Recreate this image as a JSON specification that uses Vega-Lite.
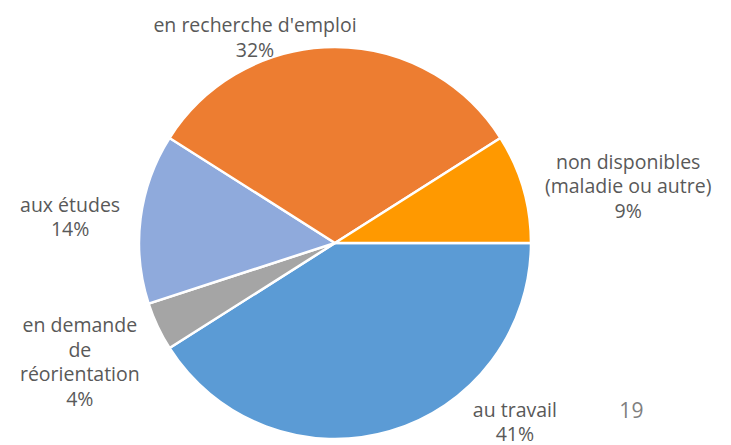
{
  "$schema": "https://vega.github.io/schema/vega-lite/v6.json",
  "width": 670,
  "height": 404,
  "autosize": "none",
  "padding": {"left": 0, "top": 41, "right": 61, "bottom": 0},
  "background": "white",
  "title": {"text": "19", "orient": "bottom", "anchor": "end", "offset": -44, "dx": -68, "fontSize": 21, "fontWeight": "normal", "color": "#7f7f7f", "font": "Open Sans"},
  "data": {"values": [
    {"cat": "au travail", "label": "au travail", "value": 41, "order": 1},
    {"cat": "en demande de réorientation", "label": "en demande|de|réorientation", "value": 4, "order": 2},
    {"cat": "aux études", "label": "aux études", "value": 14, "order": 3},
    {"cat": "en recherche d'emploi", "label": "en recherche d'emploi", "value": 32, "order": 4},
    {"cat": "non disponibles (maladie ou autre)", "label": "non disponibles|(maladie ou autre)", "value": 9, "order": 5}
  ]},
  "transform": [
    {"stack": "value", "groupby": [], "sort": [{"field": "order"}], "as": ["v0", "v1"]},
    {"calculate": "(datum.v0 + datum.v1) / 2", "as": "mid"},
    {"calculate": "datum.label + '|' + datum.value + '%'", "as": "txt"}
  ],
  "layer": [
    {
      "mark": {"type": "arc", "radius": 196, "stroke": "white", "strokeWidth": 2.5},
      "encoding": {
        "theta": {"field": "v0", "type": "quantitative", "scale": {"domain": [0, 100], "range": [1.5708, 7.8540]}},
        "theta2": {"field": "v1"},
        "color": {
          "field": "cat", "type": "nominal", "legend": null,
          "scale": {
            "domain": ["au travail", "en demande de réorientation", "aux études", "en recherche d'emploi", "non disponibles (maladie ou autre)"],
            "range": ["#5B9BD5", "#A5A5A5", "#8FAADC", "#ED7D31", "#FF9900"]
          }
        }
      }
    },
    {
      "transform": [{"filter": "datum.order == 1"}],
      "mark": {"type": "text", "radius": 254, "dx": 109, "dy": -76, "lineBreak": "|", "lineHeight": 24.5, "fontSize": 19.5, "letterSpacing": 0.4, "font": "Open Sans", "fill": "#595959"},
      "encoding": {"theta": {"field": "mid", "type": "quantitative"}, "text": {"field": "txt"}}
    },
    {
      "transform": [{"filter": "datum.order == 2"}],
      "mark": {"type": "text", "radius": 282, "dx": 0, "dy": -37, "lineBreak": "|", "lineHeight": 24.5, "fontSize": 19.5, "letterSpacing": 0.4, "font": "Open Sans", "fill": "#595959"},
      "encoding": {"theta": {"field": "mid", "type": "quantitative"}, "text": {"field": "txt"}}
    },
    {
      "transform": [{"filter": "datum.order == 3"}],
      "mark": {"type": "text", "radius": 266, "dx": -1, "dy": -4, "lineBreak": "|", "lineHeight": 24.5, "fontSize": 19.5, "letterSpacing": 0.4, "font": "Open Sans", "fill": "#595959"},
      "encoding": {"theta": {"field": "mid", "type": "quantitative"}, "text": {"field": "txt"}}
    },
    {
      "transform": [{"filter": "datum.order == 4"}],
      "mark": {"type": "text", "radius": 205, "dx": -80, "dy": -12, "lineBreak": "|", "lineHeight": 24.5, "fontSize": 19.5, "letterSpacing": 0.4, "font": "Open Sans", "fill": "#595959"},
      "encoding": {"theta": {"field": "mid", "type": "quantitative"}, "text": {"field": "txt"}}
    },
    {
      "transform": [{"filter": "datum.order == 5"}],
      "mark": {"type": "text", "radius": 298, "dx": 7, "dy": 3, "lineBreak": "|", "lineHeight": 24.5, "fontSize": 19.5, "letterSpacing": 0.4, "font": "Open Sans", "fill": "#595959"},
      "encoding": {"theta": {"field": "mid", "type": "quantitative"}, "text": {"field": "txt"}}
    }
  ]
}
